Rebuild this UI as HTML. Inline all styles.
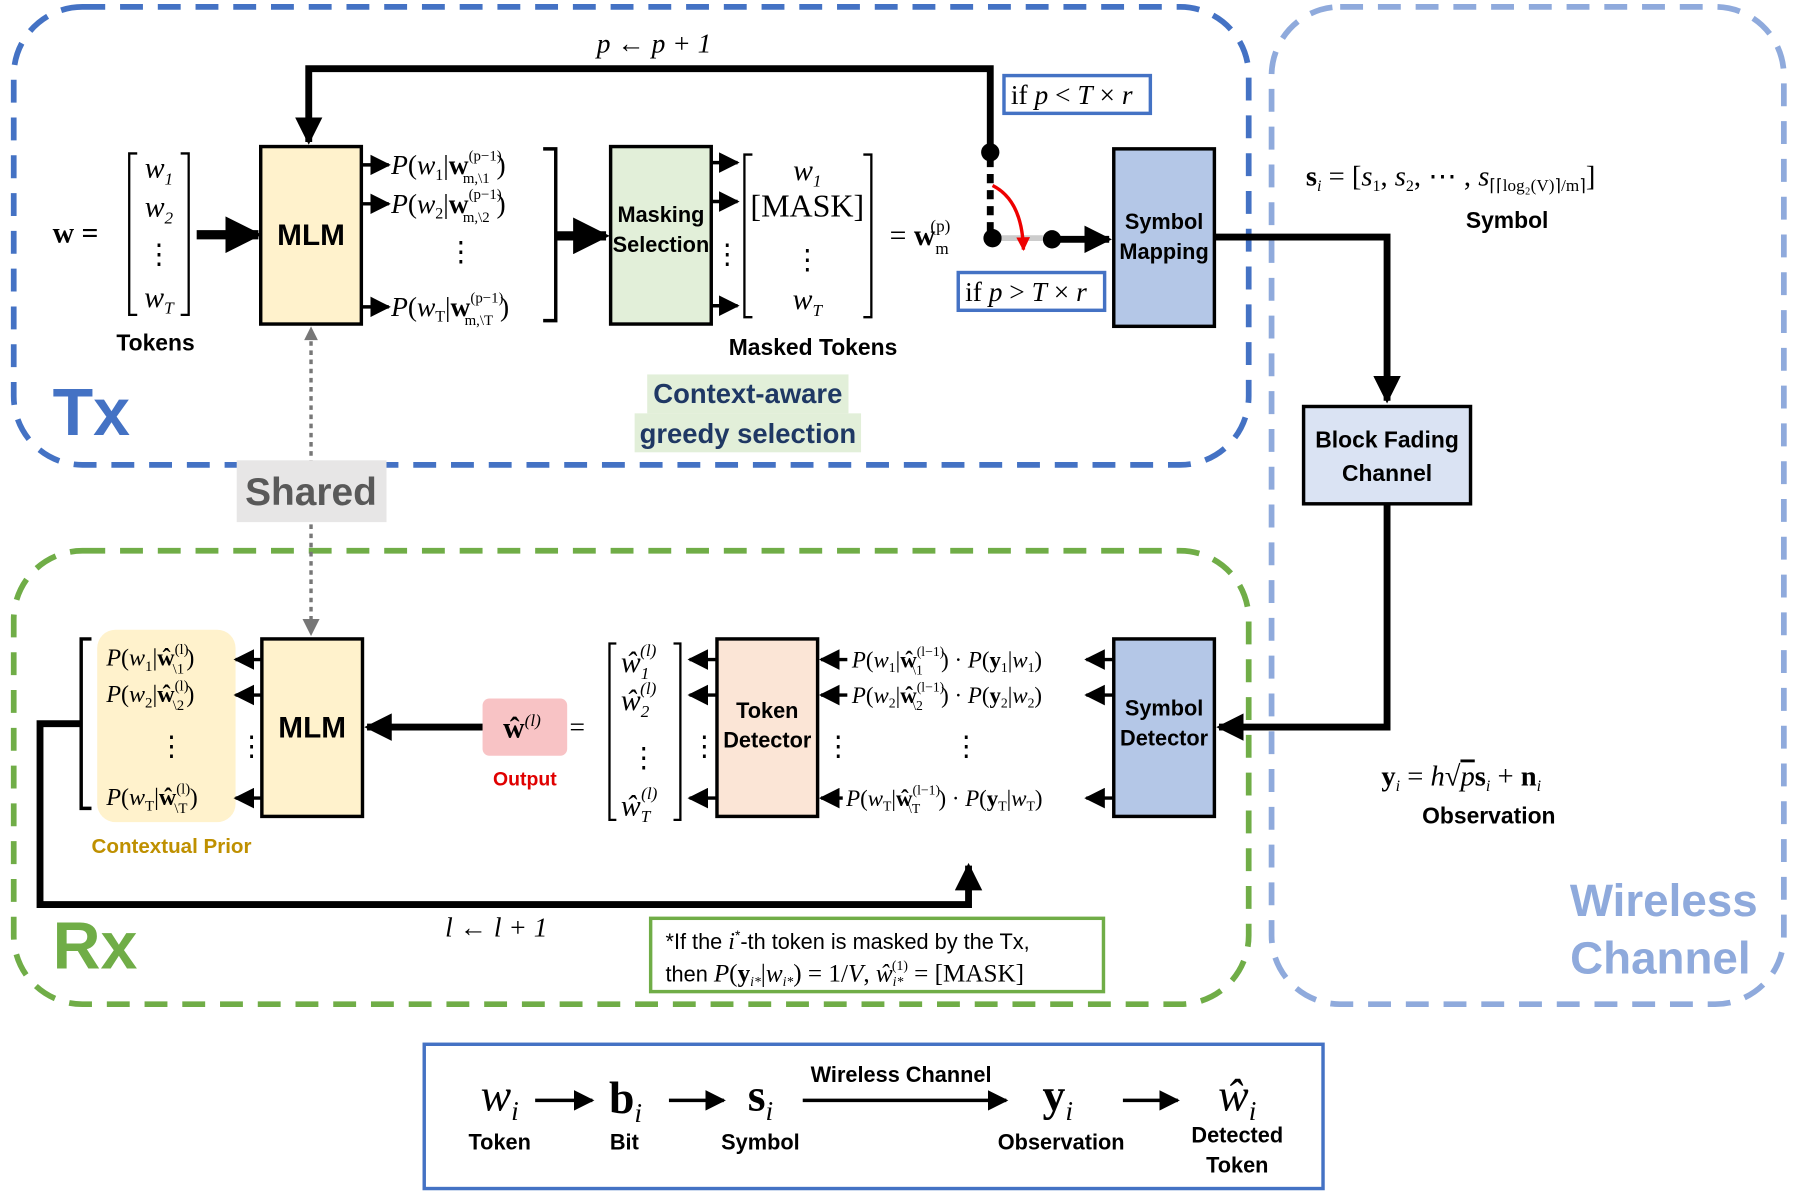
<!DOCTYPE html>
<html><head><meta charset="utf-8"><style>
html,body{margin:0;padding:0;background:#fff;}
svg{display:block;font-size:24px;}
.m{font-family:"Liberation Serif",serif;}
.i{font-style:italic;}
.b{font-family:"Liberation Sans",sans-serif;font-weight:bold;}
</style></head><body>
<svg width="1793" height="1200" viewBox="0 0 1568 1048" preserveAspectRatio="none" xmlns="http://www.w3.org/2000/svg">
<defs>
<marker id="a" viewBox="0 0 10 10" refX="9" refY="5" markerWidth="4" markerHeight="4" orient="auto"><path d="M0,0L10,5L0,10z" fill="#000"/></marker>
<marker id="s" viewBox="0 0 10 10" refX="9" refY="5" markerWidth="6" markerHeight="6" orient="auto"><path d="M0,0L10,5L0,10z" fill="#000"/></marker>
<marker id="g" viewBox="0 0 10 10" refX="9" refY="5" markerWidth="5" markerHeight="5" orient="auto"><path d="M0,0L10,5L0,10z" fill="#777"/></marker>
<marker id="r" viewBox="0 0 10 10" refX="9" refY="5" markerWidth="4" markerHeight="4" orient="auto"><path d="M0,0L10,5L0,10z" fill="#e00"/></marker>
</defs>
<!-- region boxes -->
<rect x="12" y="6" width="1080" height="400" rx="60" fill="none" stroke="#4472c4" stroke-width="5" stroke-dasharray="20 13"/>
<rect x="12" y="481" width="1080" height="396" rx="60" fill="none" stroke="#70ad47" stroke-width="5" stroke-dasharray="20 13"/>
<rect x="1112" y="6" width="448" height="871" rx="60" fill="none" stroke="#8faadc" stroke-width="5" stroke-dasharray="20 13"/>
<text x="46" y="380" class="b" font-size="58" fill="#4472c4">Tx</text>
<text x="46" y="846" class="b" font-size="58" fill="#70ad47">Rx</text>
<text x="1455" y="800" class="b" font-size="40" fill="#8faadc" text-anchor="middle">Wireless</text>
<text x="1452" y="850" class="b" font-size="40" fill="#8faadc" text-anchor="middle">Channel</text>

<!-- Tx tokens -->
<text x="46" y="212" class="m" font-weight="bold" font-size="26">w =</text>
<path d="M120,134 H113 V275 H120 M158,134 H165 V275 H158" fill="none" stroke="#000" stroke-width="2"/>
<text x="139" y="155" class="m i" font-size="26" text-anchor="middle">w<tspan font-size="15" dy="6">1</tspan></text>
<text x="139" y="189" class="m i" font-size="26" text-anchor="middle">w<tspan font-size="15" dy="6">2</tspan></text>
<text x="139" y="230" class="m" text-anchor="middle">⋮</text>
<text x="139" y="268" class="m i" font-size="26" text-anchor="middle">w<tspan font-size="15" dy="6">T</tspan></text>
<text x="136" y="306" class="b" font-size="20" text-anchor="middle">Tokens</text>
<line x1="172" y1="205" x2="226" y2="205" stroke="#000" stroke-width="8" marker-end="url(#a)"/>

<!-- Tx MLM -->
<rect x="228" y="128" width="88" height="155" fill="#fff2cc" stroke="#000" stroke-width="3"/>
<text x="272" y="214" class="b" font-size="26" text-anchor="middle">MLM</text>
<g stroke="#000" stroke-width="3">
<line x1="316" y1="144" x2="340" y2="144" marker-end="url(#s)"/>
<line x1="316" y1="178" x2="340" y2="178" marker-end="url(#s)"/>
<line x1="316" y1="268" x2="340" y2="268" marker-end="url(#s)"/>
</g>
<text x="342" y="152" class="m"><tspan class="i">P</tspan>(<tspan class="i">w</tspan><tspan font-size="14" dy="5">1</tspan><tspan dy="-5">|</tspan><tspan font-weight="bold">w</tspan><tspan font-size="13" dy="-12">(p−1)</tspan><tspan font-size="13" dx="-34" dy="20">m,\1</tspan><tspan dy="-8" dx="6">)</tspan></text>
<text x="342" y="186" class="m"><tspan class="i">P</tspan>(<tspan class="i">w</tspan><tspan font-size="14" dy="5">2</tspan><tspan dy="-5">|</tspan><tspan font-weight="bold">w</tspan><tspan font-size="13" dy="-12">(p−1)</tspan><tspan font-size="13" dx="-34" dy="20">m,\2</tspan><tspan dy="-8" dx="6">)</tspan></text>
<text x="403" y="228" class="m" text-anchor="middle">⋮</text>
<text x="342" y="276" class="m"><tspan class="i">P</tspan>(<tspan class="i">w</tspan><tspan font-size="14" dy="5">T</tspan><tspan dy="-5">|</tspan><tspan font-weight="bold">w</tspan><tspan font-size="13" dy="-12">(p−1)</tspan><tspan font-size="13" dx="-34" dy="20">m,\T</tspan><tspan dy="-8" dx="6">)</tspan></text>
<path d="M475,130 H486 V280 H475" fill="none" stroke="#000" stroke-width="3"/>
<line x1="487" y1="206" x2="530" y2="206" stroke="#000" stroke-width="8" marker-end="url(#a)"/>

<!-- Masking Selection -->
<rect x="534" y="128" width="88" height="155" fill="#e2efd9" stroke="#000" stroke-width="3"/>
<text x="578" y="194" class="b" font-size="19" text-anchor="middle">Masking</text>
<text x="578" y="220" class="b" font-size="19" text-anchor="middle">Selection</text>
<g stroke="#000" stroke-width="3">
<line x1="622" y1="142" x2="645" y2="142" marker-end="url(#s)"/>
<line x1="622" y1="176" x2="645" y2="176" marker-end="url(#s)"/>
<line x1="622" y1="267" x2="645" y2="267" marker-end="url(#s)"/>
</g>
<text x="636" y="230" class="m" text-anchor="middle">⋮</text>
<path d="M658,135 H651 V277 H658 M755,135 H762 V277 H755" fill="none" stroke="#000" stroke-width="2"/>
<text x="706" y="157" class="m i" font-size="26" text-anchor="middle">w<tspan font-size="15" dy="6">1</tspan></text>
<text x="706" y="189" class="m" font-size="28" text-anchor="middle">[MASK]</text>
<text x="706" y="235" class="m" text-anchor="middle">⋮</text>
<text x="706" y="270" class="m i" font-size="26" text-anchor="middle">w<tspan font-size="15" dy="6">T</tspan></text>
<text x="711" y="310" class="b" font-size="20" text-anchor="middle">Masked Tokens</text>
<text x="778" y="214" class="m" font-size="26">= <tspan font-weight="bold">w</tspan><tspan font-size="15" dy="8">m</tspan><tspan font-size="15" dx="-16" dy="-20">(p)</tspan></text>

<rect x="566" y="327" width="176" height="34" fill="#e2efd9"/>
<rect x="555" y="361" width="198" height="34" fill="#e2efd9"/>
<text x="654" y="352" class="b" font-size="24" fill="#1f3864" text-anchor="middle">Context-aware</text>
<text x="654" y="387" class="b" font-size="24" fill="#1f3864" text-anchor="middle">greedy selection</text>

<!-- feedback loop -->
<polyline points="866,133 866,60 270,60 270,124" fill="none" stroke="#000" stroke-width="6" marker-end="url(#a)"/>
<text x="572" y="46" class="m i" text-anchor="middle">p ← p + 1</text>
<rect x="878" y="66" width="128" height="33" fill="#fff" stroke="#4472c4" stroke-width="3"/>
<text x="884" y="91" class="m">if <tspan class="i">p</tspan> &lt; <tspan class="i">T</tspan> × <tspan class="i">r</tspan></text>
<rect x="838" y="238" width="128" height="33" fill="#fff" stroke="#4472c4" stroke-width="3"/>
<text x="844" y="263" class="m">if <tspan class="i">p</tspan> &gt; <tspan class="i">T</tspan> × <tspan class="i">r</tspan></text>
<line x1="866" y1="138" x2="866" y2="205" stroke="#000" stroke-width="6" stroke-dasharray="8 6"/>
<circle cx="866" cy="133" r="8"/>
<circle cx="868" cy="208" r="8"/>
<line x1="876" y1="208" x2="912" y2="208" stroke="#ccc" stroke-width="5"/>
<circle cx="920" cy="209" r="8"/>
<line x1="920" y1="209" x2="970" y2="209" stroke="#000" stroke-width="6" marker-end="url(#a)"/>
<path d="M868,162 Q894,175 895,218" fill="none" stroke="#e00" stroke-width="3" marker-end="url(#r)"/>

<!-- Symbol mapping -->
<rect x="974" y="130" width="88" height="155" fill="#b4c7e7" stroke="#000" stroke-width="3"/>
<text x="1018" y="200" class="b" font-size="19" text-anchor="middle">Symbol</text>
<text x="1018" y="226" class="b" font-size="19" text-anchor="middle">Mapping</text>
<polyline points="1062,207 1213,207 1213,350" fill="none" stroke="#000" stroke-width="6" marker-end="url(#a)"/>
<text x="1142" y="162" class="m" font-size="25"><tspan font-weight="bold">s</tspan><tspan font-size="14" dy="5" class="i">i</tspan><tspan dy="-5"> = [</tspan><tspan class="i">s</tspan><tspan font-size="14" dy="5">1</tspan><tspan dy="-5">, </tspan><tspan class="i">s</tspan><tspan font-size="14" dy="5">2</tspan><tspan dy="-5">, ⋯ , </tspan><tspan class="i">s</tspan><tspan font-size="15" dy="5">⌈⌈log₂(V)⌉/m⌉</tspan><tspan dy="-5">]</tspan></text>
<text x="1318" y="199" class="b" font-size="20" text-anchor="middle">Symbol</text>

<!-- Block fading -->
<rect x="1140" y="355" width="146" height="85" fill="#dae3f3" stroke="#000" stroke-width="3"/>
<text x="1213" y="391" class="b" font-size="20" text-anchor="middle">Block Fading</text>
<text x="1213" y="420" class="b" font-size="20" text-anchor="middle">Channel</text>
<polyline points="1213,440 1213,635 1066,635" fill="none" stroke="#000" stroke-width="6" marker-end="url(#a)"/>
<text x="1208" y="686" class="m" font-size="25"><tspan font-weight="bold">y</tspan><tspan font-size="14" dy="5" class="i">i</tspan><tspan dy="-5"> = </tspan><tspan class="i">h</tspan>√<tspan class="i" text-decoration="overline">p</tspan><tspan font-weight="bold">s</tspan><tspan font-size="14" dy="5" class="i">i</tspan><tspan dy="-5"> + </tspan><tspan font-weight="bold">n</tspan><tspan font-size="14" dy="5" class="i">i</tspan></text>
<text x="1302" y="719" class="b" font-size="20" text-anchor="middle">Observation</text>

<!-- Shared -->
<line x1="272" y1="290" x2="272" y2="554" stroke="#777" stroke-width="3" stroke-dasharray="4 4" marker-end="url(#g)"/>
<path d="M272,285 L266,297 L278,297 z" fill="#777"/>
<rect x="207" y="402" width="131" height="54" fill="#e7e6e6"/>
<text x="272" y="441" class="b" font-size="34" fill="#595959" text-anchor="middle">Shared</text>

<!-- Rx -->
<rect x="974" y="558" width="88" height="155" fill="#b4c7e7" stroke="#000" stroke-width="3"/>
<text x="1018" y="625" class="b" font-size="19" text-anchor="middle">Symbol</text>
<text x="1018" y="651" class="b" font-size="19" text-anchor="middle">Detector</text>
<g stroke="#000" stroke-width="3">
<line x1="974" y1="576" x2="950" y2="576" marker-end="url(#s)"/>
<line x1="974" y1="607" x2="950" y2="607" marker-end="url(#s)"/>
<line x1="974" y1="697" x2="950" y2="697" marker-end="url(#s)"/>
<line x1="741" y1="576" x2="718" y2="576" marker-end="url(#s)"/>
<line x1="741" y1="607" x2="718" y2="607" marker-end="url(#s)"/>
<line x1="737" y1="697" x2="718" y2="697" marker-end="url(#s)"/>
</g>
<text x="745" y="583" class="m" font-size="20"><tspan class="i">P</tspan>(<tspan class="i">w</tspan><tspan font-size="12" dy="4">1</tspan><tspan dy="-4">|</tspan><tspan font-weight="bold">ŵ</tspan><tspan font-size="12" dy="-10">(l−1)</tspan><tspan font-size="12" dx="-28" dy="16">\1</tspan><tspan dy="-6" dx="16">) · </tspan><tspan class="i">P</tspan>(<tspan font-weight="bold">y</tspan><tspan font-size="12" dy="4">1</tspan><tspan dy="-4">|</tspan><tspan class="i">w</tspan><tspan font-size="12" dy="4">1</tspan><tspan dy="-4">)</tspan></text>
<text x="745" y="614" class="m" font-size="20"><tspan class="i">P</tspan>(<tspan class="i">w</tspan><tspan font-size="12" dy="4">2</tspan><tspan dy="-4">|</tspan><tspan font-weight="bold">ŵ</tspan><tspan font-size="12" dy="-10">(l−1)</tspan><tspan font-size="12" dx="-28" dy="16">\2</tspan><tspan dy="-6" dx="16">) · </tspan><tspan class="i">P</tspan>(<tspan font-weight="bold">y</tspan><tspan font-size="12" dy="4">2</tspan><tspan dy="-4">|</tspan><tspan class="i">w</tspan><tspan font-size="12" dy="4">2</tspan><tspan dy="-4">)</tspan></text>
<text x="740" y="704" class="m" font-size="20"><tspan class="i">P</tspan>(<tspan class="i">w</tspan><tspan font-size="12" dy="4">T</tspan><tspan dy="-4">|</tspan><tspan font-weight="bold">ŵ</tspan><tspan font-size="12" dy="-10">(l−1)</tspan><tspan font-size="12" dx="-28" dy="16">\T</tspan><tspan dy="-6" dx="16">) · </tspan><tspan class="i">P</tspan>(<tspan font-weight="bold">y</tspan><tspan font-size="12" dy="4">T</tspan><tspan dy="-4">|</tspan><tspan class="i">w</tspan><tspan font-size="12" dy="4">T</tspan><tspan dy="-4">)</tspan></text>
<text x="733" y="660" class="m" text-anchor="middle">⋮</text>
<text x="845" y="660" class="m" text-anchor="middle">⋮</text>

<rect x="627" y="558" width="88" height="155" fill="#fbe5d6" stroke="#000" stroke-width="3"/>
<text x="671" y="627" class="b" font-size="19" text-anchor="middle">Token</text>
<text x="671" y="653" class="b" font-size="19" text-anchor="middle">Detector</text>
<g stroke="#000" stroke-width="3">
<line x1="627" y1="576" x2="603" y2="576" marker-end="url(#s)"/>
<line x1="627" y1="607" x2="603" y2="607" marker-end="url(#s)"/>
<line x1="627" y1="697" x2="603" y2="697" marker-end="url(#s)"/>
</g>
<text x="616" y="660" class="m" text-anchor="middle">⋮</text>
<path d="M539,562 H533 V716 H539 M589,562 H595 V716 H589" fill="none" stroke="#000" stroke-width="2"/>
<text x="543" y="587" class="m i" font-size="26">ŵ<tspan font-size="15" dy="6">1</tspan><tspan font-size="15" dx="-8" dy="-20">(l)</tspan></text>
<text x="543" y="620" class="m i" font-size="26">ŵ<tspan font-size="15" dy="6">2</tspan><tspan font-size="15" dx="-8" dy="-20">(l)</tspan></text>
<text x="563" y="670" class="m" text-anchor="middle">⋮</text>
<text x="543" y="712" class="m i" font-size="26">ŵ<tspan font-size="15" dy="6">T</tspan><tspan font-size="15" dx="-8" dy="-20">(l)</tspan></text>

<rect x="422" y="610" width="74" height="50" rx="6" fill="#f8c3c5"/>
<text x="440" y="644" class="m" font-size="26"><tspan font-weight="bold">ŵ</tspan><tspan font-size="15" dy="-10" class="i">(l)</tspan></text>
<text x="498" y="643" class="m">=</text>
<text x="459" y="686" class="b" font-size="17" fill="#e00000" text-anchor="middle">Output</text>
<line x1="422" y1="635" x2="321" y2="635" stroke="#000" stroke-width="6" marker-end="url(#a)"/>

<rect x="229" y="558" width="88" height="155" fill="#fff2cc" stroke="#000" stroke-width="3"/>
<text x="273" y="644" class="b" font-size="26" text-anchor="middle">MLM</text>
<rect x="85" y="550" width="121" height="168" rx="16" fill="#fff2cc"/>
<g stroke="#000" stroke-width="3">
<line x1="229" y1="576" x2="206" y2="576" marker-end="url(#s)"/>
<line x1="229" y1="607" x2="206" y2="607" marker-end="url(#s)"/>
<line x1="229" y1="697" x2="206" y2="697" marker-end="url(#s)"/>
</g>
<text x="220" y="660" class="m" text-anchor="middle">⋮</text>
<text x="93" y="581" class="m" font-size="21"><tspan class="i">P</tspan>(<tspan class="i">w</tspan><tspan font-size="13" dy="5">1</tspan><tspan dy="-5">|</tspan><tspan font-weight="bold">ŵ</tspan><tspan font-size="13" dy="-10">(l)</tspan><tspan font-size="13" dx="-14" dy="17">\1</tspan><tspan dy="-7" dx="2">)</tspan></text>
<text x="93" y="613" class="m" font-size="21"><tspan class="i">P</tspan>(<tspan class="i">w</tspan><tspan font-size="13" dy="5">2</tspan><tspan dy="-5">|</tspan><tspan font-weight="bold">ŵ</tspan><tspan font-size="13" dy="-10">(l)</tspan><tspan font-size="13" dx="-14" dy="17">\2</tspan><tspan dy="-7" dx="2">)</tspan></text>
<text x="150" y="660" class="m" text-anchor="middle">⋮</text>
<text x="93" y="703" class="m" font-size="21"><tspan class="i">P</tspan>(<tspan class="i">w</tspan><tspan font-size="13" dy="5">T</tspan><tspan dy="-5">|</tspan><tspan font-weight="bold">ŵ</tspan><tspan font-size="13" dy="-10">(l)</tspan><tspan font-size="13" dx="-14" dy="17">\T</tspan><tspan dy="-7" dx="2">)</tspan></text>
<path d="M80,558 H71 V706 H80" fill="none" stroke="#000" stroke-width="3"/>
<text x="150" y="745" class="b" font-size="18" fill="#bf9000" text-anchor="middle">Contextual Prior</text>
<polyline points="71,632 35,632 35,790 847,790 847,756" fill="none" stroke="#000" stroke-width="6" marker-end="url(#a)"/>
<text x="434" y="818" class="m i" text-anchor="middle">l ← l + 1</text>

<rect x="569" y="802" width="396" height="64" fill="#fff" stroke="#70ad47" stroke-width="3"/>
<text x="582" y="829" font-family="Liberation Sans,sans-serif" font-size="19">*If the <tspan class="m i" font-size="21">i</tspan><tspan font-size="12" dy="-8">*</tspan><tspan dy="8">-th token is masked by the Tx,</tspan></text>
<text x="582" y="857" font-family="Liberation Sans,sans-serif" font-size="19">then <tspan class="m" font-size="22"><tspan class="i">P</tspan>(<tspan font-weight="bold">y</tspan><tspan font-size="12" dy="4" class="i">i*</tspan><tspan dy="-4">|</tspan><tspan class="i">w</tspan><tspan font-size="12" dy="4" class="i">i*</tspan><tspan dy="-4">) = 1/</tspan><tspan class="i">V</tspan>,  <tspan class="i">ŵ</tspan><tspan font-size="12" dy="4" class="i">i*</tspan><tspan font-size="12" dx="-10" dy="-14">(1)</tspan><tspan dy="10"> = [MASK]</tspan></tspan></text>

<!-- legend -->
<rect x="371" y="912" width="786" height="126" fill="#fff" stroke="#4472c4" stroke-width="3"/>
<text x="437" y="970" class="m i" font-size="40" text-anchor="middle">w<tspan font-size="24" dy="8">i</tspan></text>
<text x="547" y="972" class="m" font-weight="bold" font-size="40" text-anchor="middle">b<tspan font-size="24" dy="8" class="i" font-weight="normal">i</tspan></text>
<text x="665" y="970" class="m" font-weight="bold" font-size="40" text-anchor="middle">s<tspan font-size="24" dy="8" class="i" font-weight="normal">i</tspan></text>
<text x="925" y="970" class="m" font-weight="bold" font-size="40" text-anchor="middle">y<tspan font-size="24" dy="8" class="i" font-weight="normal">i</tspan></text>
<text x="1082" y="970" class="m i" font-size="40" text-anchor="middle">ŵ<tspan font-size="24" dy="8">i</tspan></text>
<g stroke="#000" stroke-width="3">
<line x1="468" y1="961" x2="518" y2="961" marker-end="url(#s)"/>
<line x1="585" y1="961" x2="633" y2="961" marker-end="url(#s)"/>
<line x1="702" y1="961" x2="880" y2="961" marker-end="url(#s)"/>
<line x1="982" y1="961" x2="1030" y2="961" marker-end="url(#s)"/>
</g>
<text x="788" y="945" class="b" font-size="19" text-anchor="middle">Wireless Channel</text>
<text x="437" y="1004" class="b" font-size="19" text-anchor="middle">Token</text>
<text x="546" y="1004" class="b" font-size="19" text-anchor="middle">Bit</text>
<text x="665" y="1004" class="b" font-size="19" text-anchor="middle">Symbol</text>
<text x="928" y="1004" class="b" font-size="19" text-anchor="middle">Observation</text>
<text x="1082" y="998" class="b" font-size="19" text-anchor="middle">Detected</text>
<text x="1082" y="1024" class="b" font-size="19" text-anchor="middle">Token</text>
</svg>
</body></html>
